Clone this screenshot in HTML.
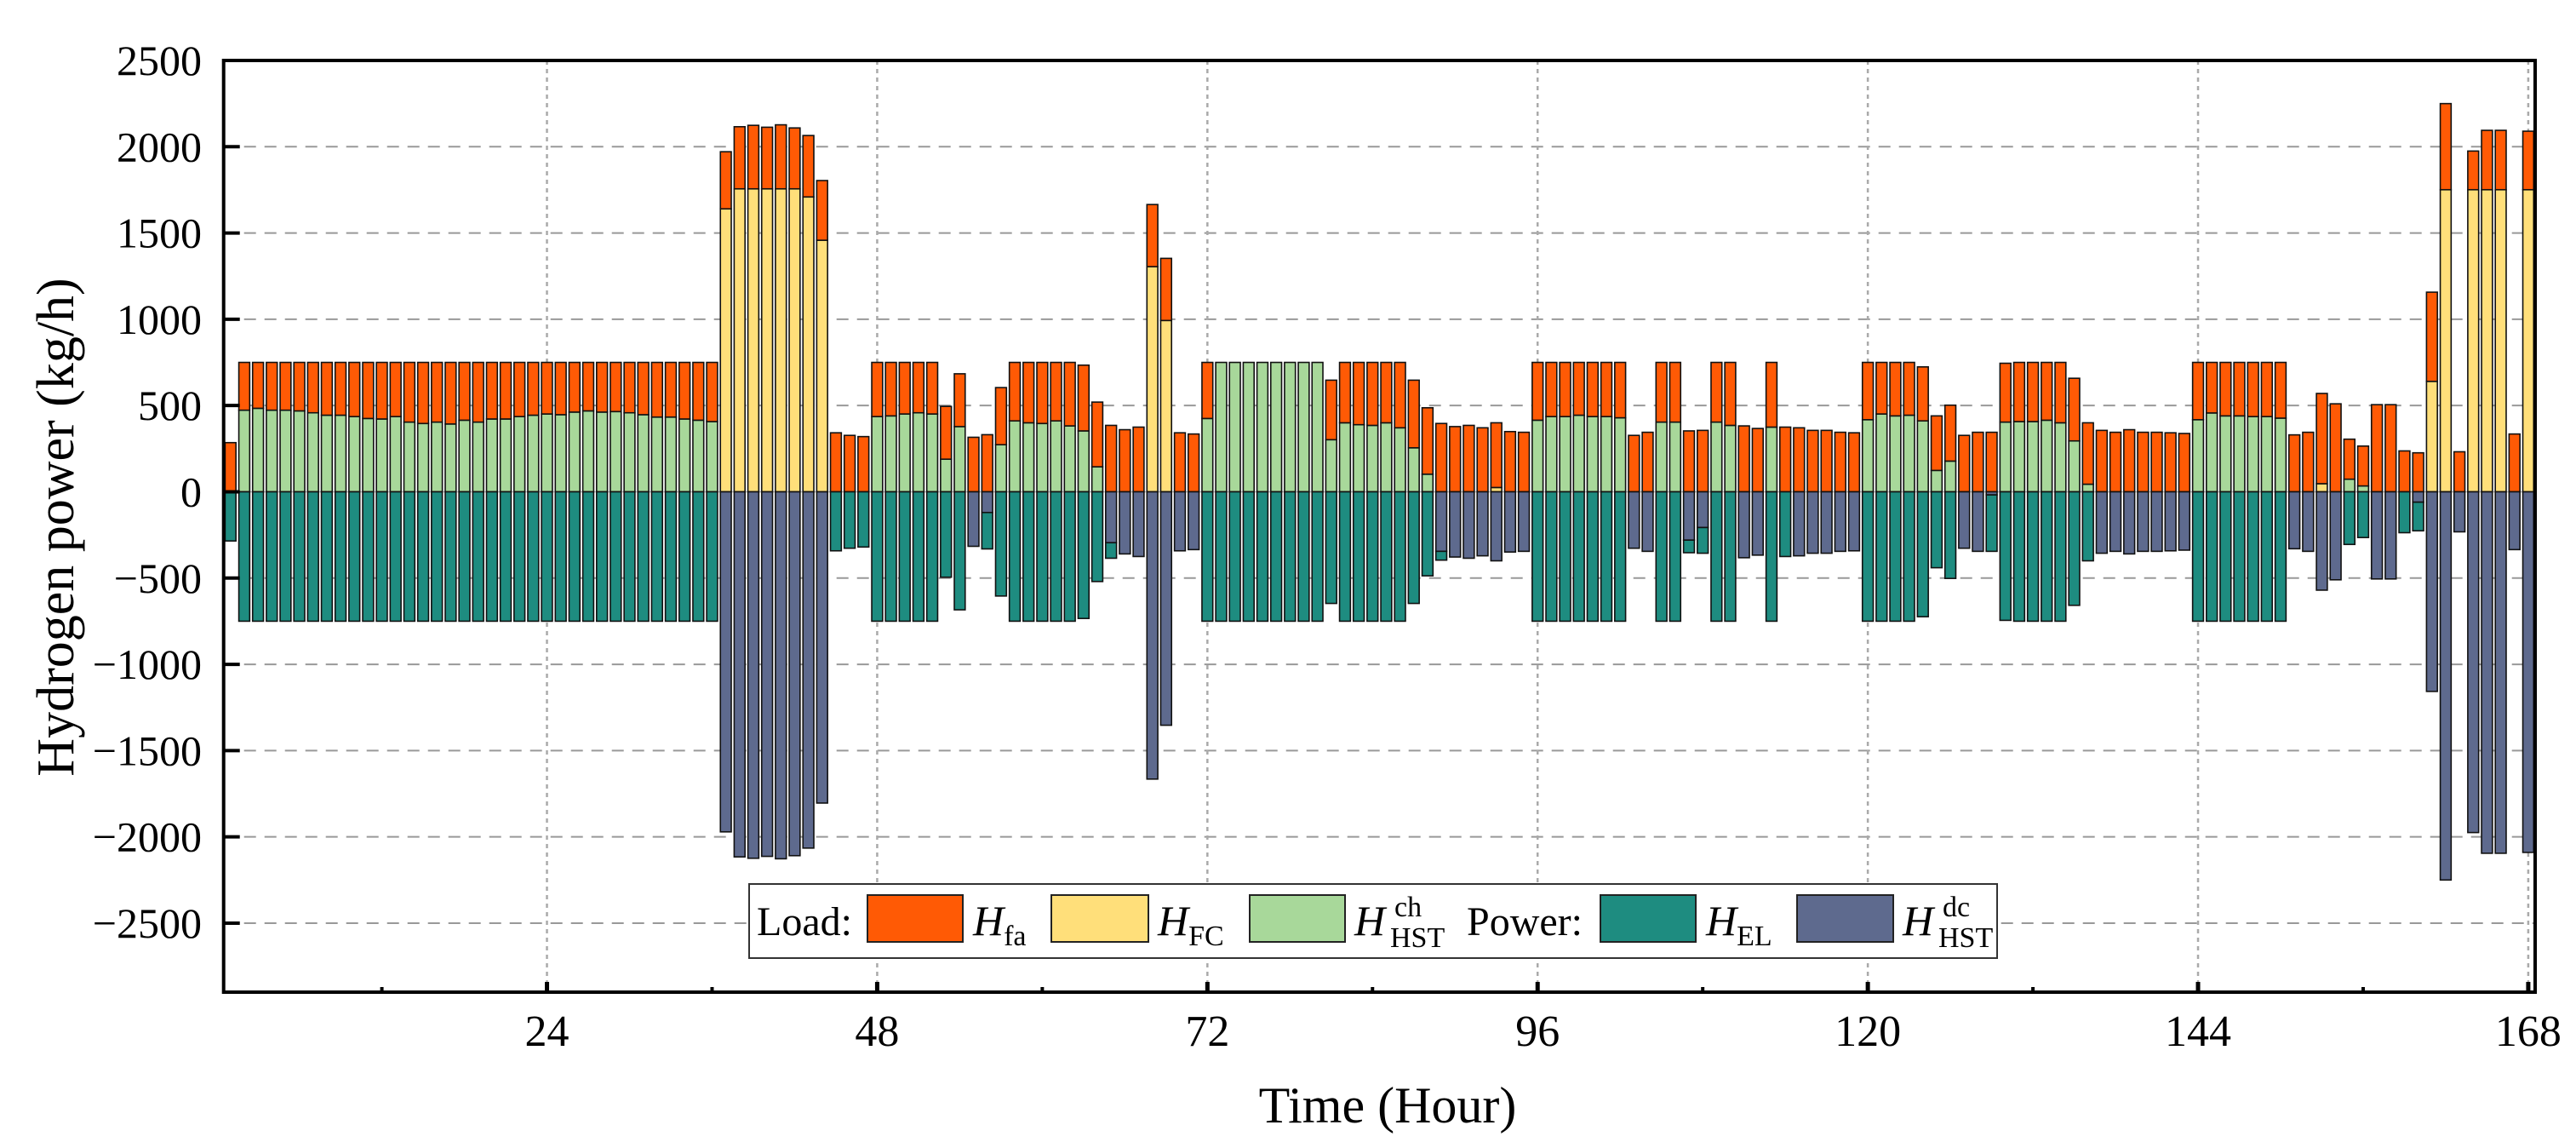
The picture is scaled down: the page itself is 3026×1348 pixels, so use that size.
<!DOCTYPE html>
<html><head><meta charset="utf-8">
<style>
html,body{margin:0;padding:0;background:#fff;}
svg{display:block;font-family:"Liberation Serif","DejaVu Serif",serif;}
</style></head>
<body>
<svg id="chart" width="3026" height="1348" viewBox="0 0 3026 1348" xmlns="http://www.w3.org/2000/svg">
<rect x="0" y="0" width="3026" height="1348" fill="#fff"/>
<g id="grid"></g>
<g id="bars"></g>
<g id="axes"></g>
<text x="0" y="0" font-size="62" text-anchor="middle" transform="translate(86,619) rotate(-90)">Hydrogen power (kg/h)</text>
<text x="1630" y="1318" font-size="60" text-anchor="middle">Time (Hour)</text>
<g>
  <rect x="880" y="1038" width="1466" height="87" fill="#fff" stroke="#333" stroke-width="2"/>
  <text x="889" y="1098" font-size="48">Load:</text>
  <rect x="1019" y="1051" width="112" height="55" fill="#FF5A05" stroke="#222" stroke-width="2"/>
  <text x="1143" y="1098" font-size="50"><tspan font-style="italic">H</tspan><tspan font-size="34" dy="12">fa</tspan></text>
  <rect x="1235" y="1051" width="114" height="55" fill="#FFDF7A" stroke="#222" stroke-width="2"/>
  <text x="1360" y="1098" font-size="50"><tspan font-style="italic">H</tspan><tspan font-size="34" dy="12">FC</tspan></text>
  <rect x="1468" y="1051" width="112" height="55" fill="#A8D89A" stroke="#222" stroke-width="2"/>
  <text x="1591" y="1098" font-size="50"><tspan font-style="italic">H</tspan><tspan font-size="34" x="1633" y="1112">HST</tspan><tspan font-size="34" x="1638" y="1076">ch</tspan></text>
  <text x="1723" y="1098" font-size="48">Power:</text>
  <rect x="1880" y="1051" width="112" height="55" fill="#1E8C80" stroke="#222" stroke-width="2"/>
  <text x="2004" y="1098" font-size="50"><tspan font-style="italic">H</tspan><tspan font-size="34" dy="12">EL</tspan></text>
  <rect x="2111" y="1051" width="113" height="55" fill="#5E6A8E" stroke="#222" stroke-width="2"/>
  <text x="2235" y="1098" font-size="50"><tspan font-style="italic">H</tspan><tspan font-size="34" x="2277" y="1112">HST</tspan><tspan font-size="34" x="2282" y="1076">dc</tspan></text>
</g>
</svg>
<script>
const hours = Array.from({length:168},(_,i)=>i+1);
const hFa = [285,
277,266,277,277,281,292,306,306,314,325,328,314,
346,354,346,357,335,346,328,328,314,306,299,303,288,281,288,285,
292,303,317,317,328,335,343,
331,360,368,357,371,353,356,346,
342,327,320,
314,310,299,292,299,
306,306,316,331,331,339,
350,354,339,368,381,375,
385,360,375,360,360,342,335,325,
0,0,0,0,0,0,0,0,
345,350,361,365,350,379,392,385,
396,378,385,371,375,349,345,
335,314,314,306,314,314,321,
327,345,346,346,353,356,346,365,
382,367,375,375,371,356,356,345,342,
332,299,310,306,313,316,324,327,345,345,
341,343,343,335,350,363,356,
356,345,360,345,345,342,338,
332,293,310,310,314,314,323,
330,345,523,510,232,231,505,505,237,226,
517,499,232,224,344,344,335,339];
const hFc = [0,
0,0,0,0,0,0,0,0,0,0,0,0,
0,0,0,0,0,0,0,0,0,0,0,0,0,0,0,0,
0,0,0,0,0,0,0,
1640,1756,1756,1756,1756,1756,1709,1458,
0,0,0,
0,0,0,0,0,
0,0,0,0,0,0,
0,0,0,0,0,0,
0,0,0,1305,993,0,0,0,
0,0,0,0,0,0,0,0,
0,0,0,0,0,0,0,0,
0,0,0,0,25,0,0,
0,0,0,0,0,0,0,
0,0,0,0,0,0,0,0,
0,0,0,0,0,0,0,0,0,
0,0,0,0,0,0,0,0,0,0,
0,0,0,0,0,0,0,
0,0,0,0,0,0,0,
0,0,0,0,0,0,0,
0,0,47,0,0,0,0,0,0,0,
640,1751,0,1751,1751,1751,0,1751];
const hCh = [0,
473,484,473,473,469,458,444,444,436,425,422,436,
404,396,404,393,415,404,422,422,436,444,451,447,462,469,462,465,
458,447,433,433,422,415,407,
0,0,0,0,0,0,0,0,
0,0,0,
436,440,451,458,451,
189,378,0,0,273,411,
400,396,411,382,353,145,
0,0,0,0,0,0,0,425,
750,750,750,750,750,750,750,750,
302,400,389,385,400,371,255,102,
0,0,0,0,0,0,0,
415,436,436,444,436,436,429,
0,0,404,404,0,0,404,385,
0,0,375,0,0,0,0,0,0,
418,451,440,444,411,124,178,0,0,0,
404,407,407,415,400,295,44,
0,0,0,0,0,0,0,
418,457,440,440,436,436,427,
0,0,0,0,73,34,0,0,0,0,
0,0,0,0,0,0,0,0];
const hEl = [285,
750,750,750,750,750,750,750,750,750,750,750,750,
750,750,750,750,750,750,750,750,750,750,750,750,750,750,750,750,
750,750,750,750,750,750,750,
0,0,0,0,0,0,0,0,
342,327,320,
750,750,750,750,750,
495,684,0,211,604,750,
750,750,750,750,734,520,
90,0,0,0,0,0,0,750,
750,750,750,750,750,750,750,750,
647,750,750,750,750,750,647,487,
51,0,0,0,0,0,0,
750,750,750,750,750,750,750,
0,0,750,750,73,149,750,750,
0,0,750,375,0,0,0,0,0,
750,750,750,750,724,440,502,0,0,327,
745,750,750,750,750,658,400,
0,0,0,0,0,0,0,
750,750,750,750,750,750,750,
0,0,0,0,305,265,0,0,237,166,
0,0,0,0,0,0,0,0];
const hDc = [0,
0,0,0,0,0,0,0,0,0,0,0,0,
0,0,0,0,0,0,0,0,0,0,0,0,0,0,0,0,
0,0,0,0,0,0,0,
1971,2116,2124,2113,2127,2109,2065,1804,
0,0,0,
0,0,0,0,0,
0,0,316,120,0,0,
0,0,0,0,0,0,
295,360,375,1665,1353,342,335,0,
0,0,0,0,0,0,0,0,
0,0,0,0,0,0,0,0,
345,378,385,371,400,349,345,
0,0,0,0,0,0,0,
327,345,0,0,280,207,0,0,
382,367,0,0,371,356,356,345,342,
0,0,0,0,0,0,0,327,345,18,
0,0,0,0,0,0,0,
356,345,360,345,345,342,338,
0,0,0,0,0,0,0,
330,345,570,510,0,0,505,505,0,60,
1157,2250,232,1975,2095,2095,335,2090];
const yTicks = [2500,2000,1500,1000,500,0,-500,-1000,-1500,-2000,-2500];
const xTicks = [24,48,72,96,120,144,168];
const xMinorTicks = [12,36,60,84,108,132,156];

const NS = "http://www.w3.org/2000/svg";
const X0=262.7, X1=2978, HMIN=0.5, HMAX=168.5;
const Y0=71, Y1=1165, VMAX=2500, VMIN=-2900;
function xs(h){return X0+(h-HMIN)/(HMAX-HMIN)*(X1-X0);}
function ys(v){return Y0+(VMAX-v)/(VMAX-VMIN)*(Y1-Y0);}
function mk(tag, attrs, parent){const e=document.createElementNS(NS,tag);for(const k in attrs)e.setAttribute(k,attrs[k]);parent.appendChild(e);return e;}

const grid=document.getElementById('grid');
yTicks.forEach(v=>{
  if(v===VMAX) return;
  const l=mk('line',{x1:X0,x2:X1,y1:ys(v),y2:ys(v),stroke:v===0?'#bbb':'#999','stroke-width':v===0?1.5:2,'stroke-dasharray':v===0?'none':'14 10'},grid);
  
  
});
xTicks.forEach(h=>{
  const l=mk('line',{x1:xs(h),x2:xs(h),y1:Y0,y2:Y1,stroke:'#aaa','stroke-width':2.5,'stroke-dasharray':'5 5'},grid);
  
  
});

const bars=document.getElementById('bars');
const BW=0.79*(X1-X0)/(HMAX-HMIN);
const colors={fa:'#FF5A05',fc:'#FFDF7A',ch:'#A8D89A',el:'#1E8C80',dc:'#5E6A8E'};
function seg(h,v0,v1,col,name){
  if(Math.abs(v1-v0)<0.5) return;
  const ya=ys(Math.max(v0,v1)), yb=ys(Math.min(v0,v1));
  const r=mk('rect',{x:xs(h)-BW/2,y:ya,width:BW,height:yb-ya,fill:col,stroke:'#111','stroke-width':1.6},bars);
  
  
}
hours.forEach((h,i)=>{
  let p=0;
  seg(h,p,p+hCh[i],colors.ch,'bar-hst-ch'); p+=hCh[i];
  seg(h,p,p+hFc[i],colors.fc,'bar-hfc'); p+=hFc[i];
  seg(h,p,p+hFa[i],colors.fa,'bar-hfa'); p+=hFa[i];
  let n=0;
  seg(h,n,n-hDc[i],colors.dc,'bar-hst-dc'); n-=hDc[i];
  seg(h,n,n-hEl[i],colors.el,'bar-hel'); n-=hEl[i];
});

const axes=document.getElementById('axes');
const frame=mk('rect',{x:X0,y:Y0,width:X1-X0,height:Y1-Y0,fill:'none',stroke:'#000','stroke-width':4},axes);


yTicks.forEach(v=>{
  const t=mk('line',{x1:X0,x2:X0+19,y1:ys(v),y2:ys(v),stroke:'#000','stroke-width':4},axes);
  
  
  const lb=mk('text',{x:237,y:ys(v)+17,'font-size':50,'text-anchor':'end'},axes);
  lb.textContent=(v<0?'\u2212':'')+Math.abs(v);
  
  
});
xTicks.forEach(h=>{
  const t=mk('line',{x1:xs(h),x2:xs(h),y1:Y1,y2:Y1-12,stroke:'#000','stroke-width':5},axes);
  
  
  const lb=mk('text',{x:xs(h),y:1228,'font-size':52,'text-anchor':'middle'},axes);
  lb.textContent=String(h);
  
  
});
xMinorTicks.forEach(h=>{
  const t=mk('line',{x1:xs(h),x2:xs(h),y1:Y1,y2:Y1-6,stroke:'#000','stroke-width':4},axes);
  
  
});
</script>
</body></html>
